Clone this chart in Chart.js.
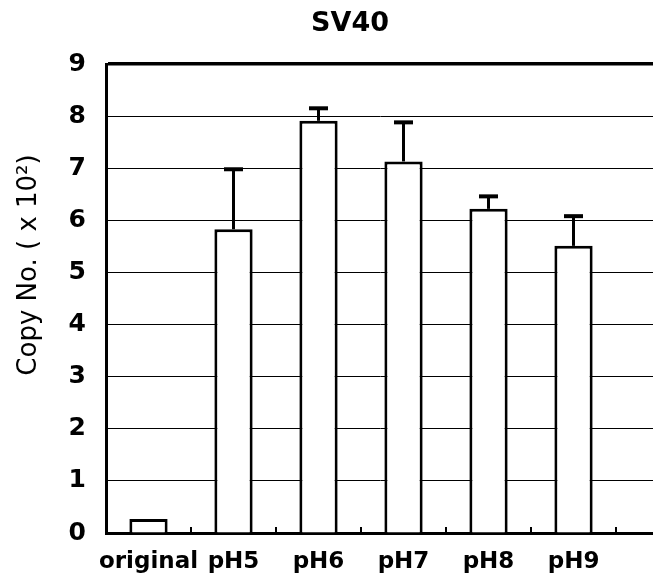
<!DOCTYPE html>
<html>
<head>
<meta charset="utf-8">
<script src="https://cdn.jsdelivr.net/npm/chart.js@4/dist/chart.umd.min.js"></script>
<style>
  html, body { margin: 0; padding: 0; background: #fff; }
  #wrap { width: 653px; height: 584px; }
</style>
</head>
<body>
<div id="wrap"><canvas id="sv40Chart" width="653" height="584"></canvas></div>
<script>
// values
const categories = ['original', 'pH5', 'pH6', 'pH7', 'pH8', 'pH9'];
const copyNo = [0.27, 5.83, 7.91, 7.13, 6.22, 5.51];
const errUp = [0, 1.15, 0.24, 0.75, 0.24, 0.57];
const yTicks = [0, 1, 2, 3, 4, 5, 6, 7, 8, 9];

const chartTitle = 'SV40';
const yTitle = 'Copy No. ( x 10\u00B2)';
const FONT = '"DejaVu Sans", sans-serif';

// error bars, small boundary ticks and the titles
const extras = {
    id: 'extras',
    afterDatasetsDraw(chart) {
        const ctx = chart.ctx;
        const x = chart.scales.x;
        const y = chart.scales.y;
        const area = chart.chartArea;
        ctx.save();
        ctx.strokeStyle = '#000';
        copyNo.forEach((v, i) => {
            if (!errUp[i]) return;
            const px = x.getPixelForValue(i);
            const top = y.getPixelForValue(v + errUp[i]);
            ctx.lineWidth = 3;
            ctx.beginPath();
            ctx.moveTo(px, y.getPixelForValue(v));
            ctx.lineTo(px, top);
            ctx.stroke();
            ctx.lineWidth = 4;
            ctx.beginPath();
            ctx.moveTo(px - 9.5, top);
            ctx.lineTo(px + 9.5, top);
            ctx.stroke();
        });
        ctx.lineWidth = 2;
        categories.forEach((c, i) => {
            const px = x.getPixelForValue(i + 0.5);
            if (px > area.right) return;
            ctx.beginPath();
            ctx.moveTo(px, area.bottom);
            ctx.lineTo(px, area.bottom - 6);
            ctx.stroke();
        });
        ctx.restore();
    },
    afterDraw(chart) {
        const ctx = chart.ctx;
        ctx.save();
        ctx.fillStyle = '#000';
        ctx.textAlign = 'center';
        ctx.textBaseline = 'middle';
        ctx.font = 'bold 27px ' + FONT;
        ctx.fillText(chartTitle, 350, 24);
        ctx.translate(29, 265);
        ctx.rotate(-Math.PI / 2);
        ctx.font = '26px ' + FONT;
        ctx.fillText(yTitle, 0, 0);
        ctx.restore();
    }
};

const ctx = document.getElementById('sv40Chart').getContext('2d');

new Chart(ctx, {
    type: 'bar',
    data: {
        datasets: [{
            data: copyNo.map((v, i) => ({ x: i, y: v })),
            backgroundColor: '#fff',
            borderColor: '#000',
            borderWidth: 3,
            borderSkipped: 'start',
            categoryPercentage: 1,
            barPercentage: 0.45
        }]
    },
    options: {
        responsive: false,
        animation: false,
        layout: { padding: { top: 64, left: 0, right: 0, bottom: 0 } },
        plugins: {
            legend: { display: false },
            title: { display: false },
            tooltip: { enabled: false }
        },
        scales: {
            x: {
                type: 'linear',
                offset: false,
                min: -0.5,
                max: 5.935,
                z: 1,
                afterBuildTicks: function(scale) {
                    scale.ticks = categories.map((c, i) => ({ value: i }));
                },
                afterFit: function(scale) {
                    scale.height = 51;
                },
                grid: { display: true, offset: false, drawOnChartArea: false, drawTicks: false },
                border: { display: true, color: '#000', width: 3 },
                ticks: {
                    autoSkip: false,
                    maxRotation: 0,
                    padding: 15,
                    color: '#000',
                    font: { family: FONT, size: 23, weight: 'bold' },
                    callback: function(value) {
                        return categories[value];
                    }
                }
            },
            y: {
                min: 0,
                max: 9,
                afterBuildTicks: function(scale) {
                    scale.ticks = yTicks.map(v => ({ value: v }));
                },
                afterFit: function(scale) {
                    scale.width = 106;
                },
                grid: {
                    drawTicks: false,
                    color: '#000',
                    lineWidth: function(c) {
                        return c.tick && c.tick.value === 9 ? 3.5 : 1;
                    }
                },
                border: { display: true, color: '#000', width: 3 },
                ticks: {
                    padding: 20,
                    color: '#000',
                    font: { family: FONT, size: 25, weight: 'bold' }
                }
            }
        }
    },
    plugins: [extras]
});
</script>
</body>
</html>
